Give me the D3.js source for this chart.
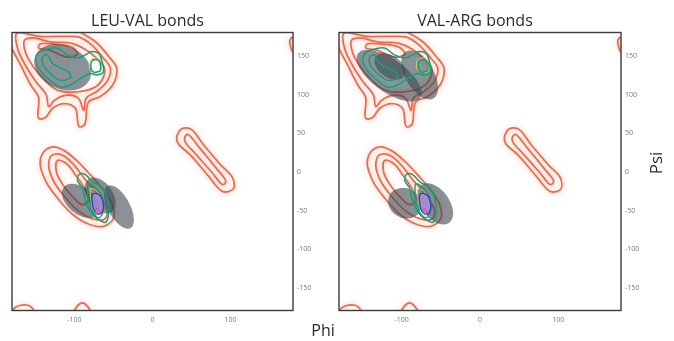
<!DOCTYPE html>
<html><head><meta charset="utf-8">
<script src="https://cdn.jsdelivr.net/npm/d3@7"></script>
<style>body{margin:0;background:#fff}svg{display:block}</style>
</head><body>
<svg id="chart" width="674" height="341"></svg>
<script>
// Axis ticks and panel titles
const phiTicks = [-100, 0, 100];
const psiTicks = [150, 100, 50, 0, -50, -100, -150];
const panelTitles = ["LEU-VAL bonds", "VAL-ARG bonds"];

// Reference backbone distribution, contour rings as [phi, psi] (same in both panels)
const redBeta1 = [[-185,183],[-182,164],[-169,138],[-156,112],[-146,96],[-146,69],[-137,70],[-128,82],[-112,88],[-99,82],[-94,58],[-87,61],[-82,90],[-67,97],[-51,112],[-46,134],[-56,149],[-73,168],[-90,179],[-105,186],[-144,190]];
const redBeta2 = [[-174,179],[-173,160],[-162,136],[-149,116],[-136,99],[-133,84],[-126,92],[-110,99],[-95,95],[-88,79],[-85,95],[-71,104],[-58,117],[-54,134],[-63,147],[-78,164],[-94,174],[-110,175],[-144,175]];
const redBeta3 = [[-164,170],[-163,155],[-153,136],[-138,118],[-121,105],[-97,103],[-74,109],[-63,122],[-62,135],[-72,147],[-86,158],[-103,166],[-131,168],[-153,173]];
const redBeta4 = [[-146,160],[-131,157],[-118,151],[-108,148],[-96,152],[-103,161],[-124,165],[-144,165]];
const redAlpha1 = [[-138,27],[-144,12],[-137,-12],[-122,-34],[-103,-55],[-82,-68],[-63,-71],[-50,-61],[-51,-44],[-62,-25],[-79,-5],[-97,14],[-113,27],[-126,32]];
const redAlpha2 = [[-129,21],[-133,8],[-127,-12],[-113,-32],[-95,-51],[-77,-61],[-62,-62],[-58,-51],[-68,-31],[-85,-12],[-101,9],[-115,21]];
const redAlpha3 = [[-122,14],[-123,-1],[-115,-17],[-103,-32],[-90,-43],[-82,-38],[-87,-22],[-99,-4],[-110,10]];
const redLeft1 = [[31,44],[37,55],[49,55],[65,35],[87,9],[103,-9],[103,-23],[90,-26],[71,-5],[49,21],[33,36]];
const redLeft2 = [[41,43],[45,48],[60,31],[81,5],[94,-13],[90,-17],[76,-1],[55,23],[42,38]];
const redWrapA = [[-179,-186],[-177,-177],[-167,-173],[-156,-175],[-151,-186]];
const redWrapB = [[-101,-186],[-97,-175],[-90,-170],[-83,-175],[-79,-186]];
const redWrapC = [[176,170],[180,174],[186,160],[180,155]];
const redContours = [redBeta1, redBeta2, redBeta3, redBeta4, redAlpha1, redAlpha2, redAlpha3, redLeft1, redLeft2, redWrapA, redWrapB, redWrapC];

const greenBetaOuter = [[-147,153],[-140,157],[-122,160],[-109,151],[-96,147],[-86,151],[-79,155],[-69,153],[-64,140],[-63,129],[-71,125],[-79,127],[-90,122],[-105,112],[-118,109],[-131,118],[-144,131],[-150,144]];
const greenBetaInner = [[-141,148],[-135,151],[-128,140],[-118,134],[-108,129],[-105,122],[-118,118],[-131,127],[-140,138]];
const greenBetaSmall = [[-77,144],[-69,144],[-67,131],[-76,129],[-79,138]];
const greenAlphaOuter = [[-95,-5],[-88,-3],[-76,-14],[-64,-21],[-58,-34],[-56,-53],[-60,-66],[-71,-61],[-79,-53],[-86,-38],[-90,-21],[-96,-12]];
const greenAlphaInner = [[-82,-16],[-73,-21],[-64,-34],[-63,-51],[-69,-60],[-77,-53],[-82,-38],[-83,-25]];
const greenContours = [greenBetaOuter, greenBetaInner, greenBetaSmall, greenAlphaOuter, greenAlphaInner];

const yellowBeta = [[-80,144],[-71,147],[-66,138],[-66,130],[-73,128],[-80,132],[-81,140]];
const yellowAlpha = [[-79,-22],[-71,-26],[-65,-38],[-65,-51],[-71,-56],[-76,-48],[-79,-35]];
const yellowContours = [yellowBeta, yellowAlpha];

const blueAlpha = [[-76,-29],[-67,-31],[-63,-47],[-67,-55],[-73,-53],[-77,-42]];
const pinkAlpha = [[-72,-48],[-68,-51],[-69,-55],[-73,-53]];

// Bond densities: [phi, psi, semi-axis a, semi-axis b, tilt in degrees]
const leuValBlobs = [
  [-115, 135, 38, 28, -25],
  [-92, -38, 28, 17, -40],
  [-67, -31, 26, 16, -55],
  [-43, -46, 31, 14, -62]
];
const valArgBlobs = [
  [-116, 124, 49, 21, -36],
  [-115, 136, 22, 14, -35],
  [-77, 125, 35, 18, -60],
  [-96, -41, 22, 19, -30],
  [-57, -42, 30, 18, -55]
];

const panels = [
  {title: panelTitles[0], blobs: leuValBlobs, x0: 12, x1: 293},
  {title: panelTitles[1], blobs: valArgBlobs, x0: 339, x1: 621}
];

const svg = d3.select("#chart");
const defs = svg.append("defs");
defs.append("filter").attr("id", "soft").attr("x", "-20%").attr("y", "-20%").attr("width", "140%").attr("height", "140%")
  .append("feGaussianBlur").attr("stdDeviation", 0.45);
defs.append("filter").attr("id", "haze").attr("x", "-30%").attr("y", "-30%").attr("width", "160%").attr("height", "160%")
  .append("feGaussianBlur").attr("stdDeviation", 2.2);

const yTop = 32.5, yBot = 310.5;

function ellipseRing(b) {
  const [cx, cy, a, bb, tilt] = b;
  const th = tilt * Math.PI / 180;
  return d3.range(0, 72).map(i => {
    const t = i / 72 * 2 * Math.PI;
    const u = a * Math.cos(t), v = bb * Math.sin(t);
    return [cx + u * Math.cos(th) - v * Math.sin(th), cy + u * Math.sin(th) + v * Math.cos(th)];
  });
}

panels.forEach((p, i) => {
  const x = d3.scaleLinear().domain([-180, 180]).range([p.x0, p.x1]);
  const y = d3.scaleLinear().domain([-180, 180]).range([yBot, yTop]);
  const line = d3.line().x(d => x(d[0])).y(d => y(d[1])).curve(d3.curveCatmullRomClosed.alpha(0.5));

  const clipId = "clip" + i;
  defs.append("clipPath").attr("id", clipId).append("rect")
    .attr("x", p.x0).attr("y", yTop).attr("width", p.x1 - p.x0).attr("height", yBot - yTop);

  const g = svg.append("g").attr("clip-path", `url(#${clipId})`);

  // faint speckle halo around the reference contours
  g.append("g").attr("filter", "url(#haze)").selectAll("path").data(redContours).join("path")
    .attr("d", line).attr("fill", "none").attr("stroke", "#f3a08a").attr("stroke-width", 7).attr("opacity", 0.18);

  const soft = g.append("g").attr("filter", "url(#soft)");
  soft.append("g").selectAll("path").data(redContours).join("path")
    .attr("d", line).attr("fill", "none").attr("stroke", "#ee6a4c").attr("stroke-width", 1.8);

  soft.append("g").selectAll("path").data(p.blobs.map(ellipseRing)).join("path")
    .attr("d", line).attr("fill", "#3a4752").attr("fill-opacity", 0.6);

  soft.append("g").selectAll("path").data(yellowContours).join("path")
    .attr("d", line).attr("fill", "none").attr("stroke", "#e2d456").attr("stroke-width", 1);
  soft.append("g").selectAll("path").data(greenContours).join("path")
    .attr("d", line).attr("fill", "none").attr("stroke", "#10a37a").attr("stroke-width", 1.5);
  soft.append("path").datum(blueAlpha).attr("d", line)
    .attr("fill", "#a88bd6").attr("fill-opacity", 0.85).attr("stroke", "#3340b8").attr("stroke-width", 1.3);
  soft.append("path").datum(pinkAlpha).attr("d", line)
    .attr("fill", "#e070d0").attr("fill-opacity", 0.5).attr("stroke", "#d040c0").attr("stroke-width", 1);

  // frame
  svg.append("rect").attr("x", p.x0).attr("y", yTop).attr("width", p.x1 - p.x0).attr("height", yBot - yTop)
    .attr("fill", "none").attr("stroke", "#3a3a3a").attr("stroke-width", 1.4);

  // tick labels
  svg.append("g").selectAll("text").data(phiTicks).join("text")
    .attr("x", d => x(d)).attr("y", 322).attr("text-anchor", "middle")
    .attr("font-family", "Open Sans, sans-serif").attr("font-size", 7).attr("fill", "#777")
    .text(d => d);
  svg.append("g").selectAll("text").data(psiTicks).join("text")
    .attr("x", p.x1 + 4).attr("y", d => y(d) + 2.5).attr("text-anchor", "start")
    .attr("font-family", "Open Sans, sans-serif").attr("font-size", 7).attr("fill", "#777")
    .text(d => d);

  svg.append("text").attr("x", (p.x0 + p.x1) / 2 - 5).attr("y", 26).attr("text-anchor", "middle")
    .attr("font-family", "Open Sans, sans-serif").attr("font-size", 16).attr("fill", "#2a2a2a")
    .text(p.title);
});

svg.append("text").attr("x", 323).attr("y", 336).attr("text-anchor", "middle")
  .attr("font-family", "Open Sans, sans-serif").attr("font-size", 16).attr("fill", "#2a2a2a").text("Phi");
svg.append("text").attr("transform", "translate(662,163) rotate(-90)").attr("text-anchor", "middle")
  .attr("font-family", "Open Sans, sans-serif").attr("font-size", 17).attr("fill", "#2a2a2a").text("Psi");
</script>
</body></html>
